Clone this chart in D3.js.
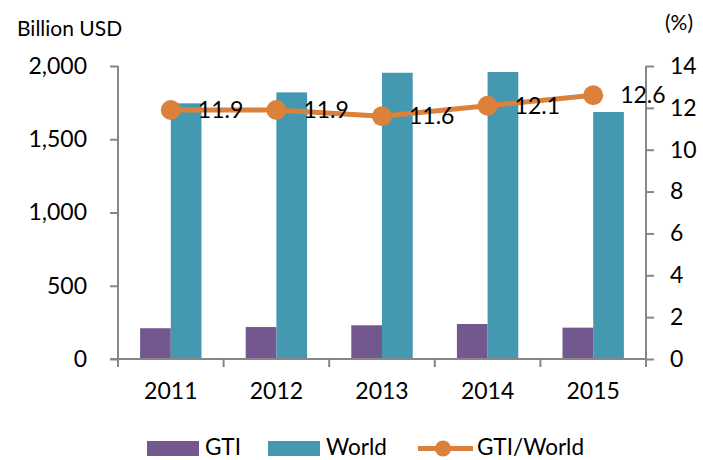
<!DOCTYPE html>
<html>
<meta charset="utf-8">
<script src="https://d3js.org/d3.v7.min.js"></script>
<style>
  body { margin: 0; background: #fff; }
  text { font-family: Lato, "Noto Sans", sans-serif; fill: #000; }
</style>
<body>
<div id="vis"></div>
<script>
  // data
  const years = ["2011", "2012", "2013", "2014", "2015"];
  const gti = [210, 218, 230, 239, 214];
  const world = [1745, 1820, 1954, 1959, 1686];
  const ratio = [11.9, 11.9, 11.6, 12.1, 12.6];
  const leftTicks = [0, 500, 1000, 1500, 2000];
  const rightTicks = [0, 2, 4, 6, 8, 10, 12, 14];

  const W = 703, H = 460;
  const plotLeft = 118, plotRight = 646, plotTop = 66, plotBottom = 359;
  const axisColor = "#878787";
  const cGti = "#73578f", cWorld = "#4499b1", cLine = "#dc813b";

  const svg = d3.select("#vis").append("svg")
      .attr("width", W)
      .attr("height", H);

  const x = d3.scaleBand().domain(years).range([plotLeft, plotRight]);
  const inner = d3.scaleBand().domain(["gti", "world"])
      .range([0, x.bandwidth()]).paddingOuter(0.72).paddingInner(0);
  const yL = d3.scaleLinear().domain([0, 2000]).range([plotBottom, plotTop]);
  const yR = d3.scaleLinear().domain([0, 14]).range([plotBottom, plotTop]);

  // bars
  svg.append("g").selectAll("rect")
    .data(years)
    .join("rect")
      .attr("x", (d) => x(d) + inner("gti"))
      .attr("y", (d, i) => yL(gti[i]))
      .attr("width", inner.bandwidth())
      .attr("height", (d, i) => plotBottom - yL(gti[i]))
      .style("fill", cGti);
  svg.append("g").selectAll("rect")
    .data(years)
    .join("rect")
      .attr("x", (d) => x(d) + inner("world"))
      .attr("y", (d, i) => yL(world[i]))
      .attr("width", inner.bandwidth())
      .attr("height", (d, i) => plotBottom - yL(world[i]))
      .style("fill", cWorld);

  // left axis
  const gL = svg.append("g")
      .attr("transform", `translate(${plotLeft},0)`)
      .call(d3.axisLeft(yL).tickValues(leftTicks).tickSize(8).tickPadding(23)
        .tickFormat(d3.format(",")));
  // right axis
  const gR = svg.append("g")
      .attr("transform", `translate(${plotRight},0)`)
      .call(d3.axisRight(yR).tickValues(rightTicks).tickSize(8).tickPadding(16));
  // bottom axis
  const gB = svg.append("g")
      .attr("transform", `translate(0,${plotBottom})`)
      .call(d3.axisBottom(x).tickSize(0).tickPadding(24));
  gB.append("g").selectAll("line")
    .data(x.domain().map((d) => x(d)).concat([plotRight]))
    .join("line")
      .attr("x1", (d) => d).attr("x2", (d) => d)
      .attr("y1", 0).attr("y2", 8);

  [gL, gR, gB].forEach((g) => {
    g.selectAll("path").attr("stroke", axisColor).attr("stroke-width", 2);
    g.selectAll("line").attr("stroke", axisColor).attr("stroke-width", 2);
    g.selectAll("text").style("font-size", "23px").style("fill", "#000")
      .style("font-family", "Lato, 'Noto Sans', sans-serif");
  });
  gL.select("path").attr("d", `M0,${plotTop}V${plotBottom}`);
  gR.select("path").attr("d", `M0,${plotTop}V${plotBottom}`);
  gB.select("path").attr("d", `M${plotLeft - 8},0H${plotRight}`);

  // line series
  const line = d3.line()
      .x((d, i) => x(years[i]) + x.bandwidth() / 2)
      .y((d) => yR(d));
  svg.append("path")
      .datum(ratio)
      .attr("d", line)
      .attr("fill", "none")
      .attr("stroke", cLine)
      .attr("stroke-width", 5);
  svg.append("g").selectAll("circle")
    .data(ratio)
    .join("circle")
      .attr("cx", (d, i) => x(years[i]) + x.bandwidth() / 2)
      .attr("cy", (d) => yR(d))
      .attr("r", 10)
      .style("fill", cLine);
  svg.append("g").selectAll("text")
    .data(ratio)
    .join("text")
      .attr("x", (d, i) => x(years[i]) + x.bandwidth() / 2 + 27)
      .attr("y", (d) => yR(d) + 2)
      .attr("dominant-baseline", "middle")
      .style("font-size", "23px")
      .text((d) => d.toFixed(1));

  // axis titles
  svg.append("text")
      .attr("x", 17).attr("y", 36)
      .style("font-size", "21px")
      .text("Billion USD");
  svg.append("text")
      .attr("x", 665).attr("y", 30)
      .style("font-size", "21px")
      .text("(%)");

  // legend
  const lg = svg.append("g");
  lg.append("rect").attr("x", 147).attr("y", 441).attr("width", 52).attr("height", 15)
      .style("fill", cGti);
  lg.append("text").attr("x", 205).attr("y", 455).style("font-size", "22.5px").text("GTI");
  lg.append("rect").attr("x", 268).attr("y", 441).attr("width", 52).attr("height", 15)
      .style("fill", cWorld);
  lg.append("text").attr("x", 326).attr("y", 455).style("font-size", "22.5px").text("World");
  lg.append("line").attr("x1", 418).attr("x2", 473).attr("y1", 448.5).attr("y2", 448.5)
      .attr("stroke", cLine).attr("stroke-width", 5);
  lg.append("circle").attr("cx", 443).attr("cy", 448.5).attr("r", 8).style("fill", cLine);
  lg.append("text").attr("x", 477).attr("y", 455).style("font-size", "22.5px").text("GTI/World");
</script>
</body>
</html>
